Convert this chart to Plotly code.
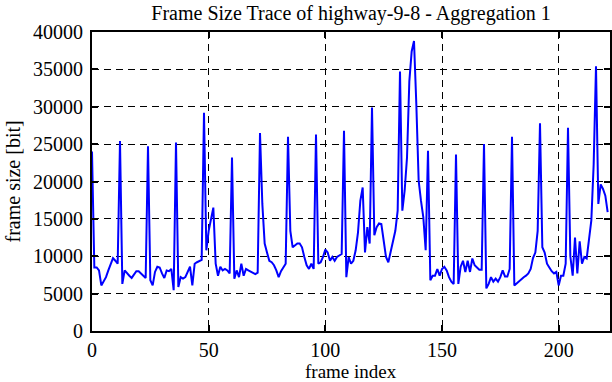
import plotly.graph_objects as go

# frame sizes [bit], frames 0..221
frame_size = [
    24000, 8500, 8500, 8100, 6100, 6600, 7200, 8100, 9000, 9750,   # 0-9
    9400, 9000, 25400, 6300, 8100, 7700, 7400, 7100, 7500, 8000,   # 10-19
    8000, 7700, 7300, 7100, 24700, 6800, 6100, 7900, 8600, 8500,   # 20-29
    7700, 7100, 8100, 8000, 8300, 5450, 25200, 5900, 7200, 7000,   # 30-39
    7200, 7800, 8600, 6100, 9000, 9200, 9350, 9500, 29200, 10800,  # 40-49
    13400, 15200, 16500, 9000, 7400, 8600, 8100, 8300, 8100, 7700, # 50-59
    23200, 7000, 8100, 7200, 9000, 7400, 8300, 8100, 7900, 7700,   # 60-69
    7600, 7800, 26500, 17000, 11700, 10500, 9400, 9200, 8800, 8100,# 70-79
    7200, 8000, 8500, 9000, 26000, 13400, 11200, 11400, 11700, 11700, # 80-89
    11200, 9900, 8800, 8300, 9000, 8300, 26300, 9000, 9200, 9900,  # 90-99
    10900, 10500, 9400, 9900, 9400, 9900, 10100, 10300, 26800, 7200, # 100-109
    9900, 9000, 9400, 10800, 13200, 17400, 19200, 10500, 13900, 11700, # 110-119
    29900, 12800, 13900, 14400, 14300, 11700, 9900, 9200, 10500, 12100, # 120-129
    13400, 16100, 34700, 16100, 18800, 23200, 33400, 37400, 38800, 30300, # 130-139
    20100, 17400, 15200, 10800, 24100, 6800, 7400, 7400, 8300, 7400, # 140-149
    8300, 8600, 8100, 7200, 6600, 6300, 23600, 6300, 8600, 9400,   # 150-159
    7900, 9400, 7900, 9700, 8800, 8500, 8200, 8200, 25000, 5700,   # 160-169
    6300, 7200, 6600, 7000, 6600, 7200, 8100, 7300, 7300, 8300,    # 170-179
    26000, 6100, 6400, 6700, 7000, 7200, 7400, 7700, 8300, 9750,   # 180-189
    10500, 13400, 27800, 11200, 10500, 9000, 8500, 8000, 7700, 7900, # 190-199
    6100, 7400, 7400, 9000, 27200, 10000, 7400, 12500, 7700, 12000, # 200-209
    9000, 9900, 9700, 12100, 14800, 22300, 35400, 17000, 19600, 19000, # 210-219
    18100, 15900,                                                  # 220-221
]
frame_index = list(range(len(frame_size)))

title_text = "Frame Size Trace of highway-9-8 - Aggregation 1"
x_label = "frame index"
y_label = "frame size [bit]"

FONT = "Liberation Serif, Times New Roman, serif"
FS = 20

fig = go.Figure()
fig.add_trace(go.Scatter(
    x=frame_index, y=frame_size, mode="lines",
    line=dict(color="#0000ff", width=2),
    showlegend=False, hoverinfo="skip",
))

axis_common = dict(
    showline=True, linecolor="black", linewidth=2, mirror="allticks",
    ticks="inside", ticklen=6, tickcolor="black", tickwidth=1.5,
    showgrid=True, gridcolor="black", gridwidth=1, griddash="7px,5px",
    zeroline=False, automargin=False, tickformat="d",
    tickfont=dict(family=FONT, size=FS, color="black"),
)

plot_l, plot_r, plot_t, plot_b = 92, 2, 32, 51
plot_w = 612 - plot_l - plot_r
plot_h = 382 - plot_t - plot_b

fig.update_layout(
    width=612, height=382,
    margin=dict(l=plot_l, r=plot_r, t=plot_t, b=plot_b),
    paper_bgcolor="white", plot_bgcolor="white",
    title=dict(text=title_text, x=(351 / 612), xanchor="center", y=1 - 13 / 382, yanchor="middle",
               font=dict(family=FONT, size=FS, color="black")),
    xaxis=dict(range=[0, 222], dtick=50, tick0=0, ticklabelstandoff=0, **axis_common),
    yaxis=dict(range=[0, 40000], dtick=5000, tick0=0, ticklabelstandoff=3, **axis_common),
    annotations=[
        dict(text=x_label, xref="paper", yref="paper",
             x=(351 - plot_l) / plot_w, y=-(371.5 - (382 - plot_b)) / plot_h,
             xanchor="center", yanchor="middle", showarrow=False,
             font=dict(family=FONT, size=19, color="black")),
        dict(text=y_label, xref="paper", yref="paper", textangle=-90,
             x=(12 - plot_l) / plot_w, y=0.5,
             xanchor="center", yanchor="middle", showarrow=False,
             font=dict(family=FONT, size=FS, color="black")),
    ],
)

fig.write_html("out.html", config={"displayModeBar": False},
               post_script="document.body.style.margin='0';document.body.style.padding='0';")
